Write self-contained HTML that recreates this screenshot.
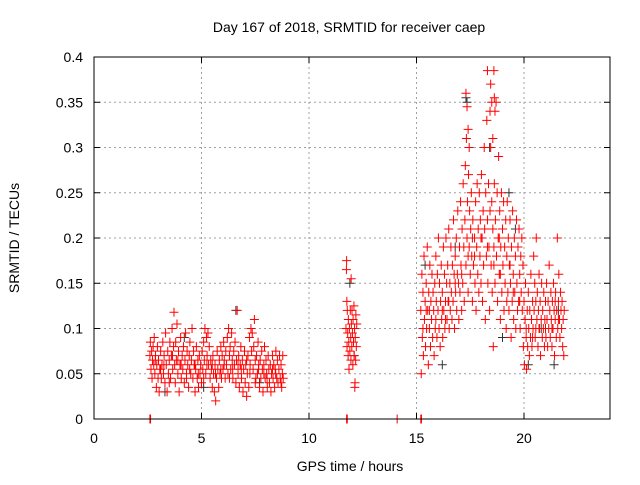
<!DOCTYPE html>
<html><head><meta charset="utf-8"><style>
body{margin:0;background:#fff;font-family:"Liberation Sans",sans-serif}
svg text{font-family:"Liberation Sans",sans-serif;font-size:14px;fill:#000}
</style></head><body>
<svg id="chart" width="640" height="480" xmlns="http://www.w3.org/2000/svg">
<text x="349" y="32" text-anchor="middle">Day 167 of 2018, SRMTID for receiver caep</text>
<text x="350" y="471" text-anchor="middle">GPS time / hours</text>
<text transform="translate(19,238) rotate(-90)" text-anchor="middle">SRMTID / TECUs</text>
<g id="grid"></g>
<g id="ticks"></g>
<g id="black"></g>
<g id="red"></g>
<rect x="94" y="57" width="516" height="362" fill="none" stroke="#000" stroke-width="1"/>
</svg>
<script>
const xTicks=[0,5,10,15,20];
const yTicks=[0,0.05,0.1,0.15,0.2,0.25,0.3,0.35,0.4];
const yTickLabels=["0","0.05","0.1","0.15","0.2","0.25","0.3","0.35","0.4"];
const redCluster1=[
[2.6,0.07],[2.62,0.085],[2.65,0.055],[2.68,0.075],[2.7,0.045],[2.72,0.065],[2.75,0.08],[2.78,0.06],[2.8,0.09],[2.83,0.05],[2.86,0.07],[2.9,0.035],[2.92,0.06],[2.95,0.08],[2.98,0.045],
[3.0,0.065],[3.03,0.03],[3.06,0.055],[3.1,0.075],[3.13,0.045],[3.16,0.06],[3.2,0.085],[3.23,0.05],[3.26,0.07],[3.3,0.04],[3.33,0.095],[3.36,0.06],[3.4,0.03],[3.43,0.075],[3.46,0.05],
[3.5,0.065],[3.53,0.085],[3.56,0.045],[3.6,0.07],[3.63,0.1],[3.66,0.055],[3.7,0.08],[3.72,0.118],[3.75,0.06],[3.78,0.04],[3.8,0.085],[3.83,0.065],[3.86,0.105],[3.9,0.05],[3.93,0.075],
[3.96,0.03],[4.0,0.06],[4.03,0.09],[4.06,0.045],[4.1,0.07],[4.13,0.055],[4.16,0.08],[4.2,0.04],[4.23,0.065],[4.26,0.095],[4.3,0.05],[4.33,0.075],[4.36,0.06],[4.4,0.035],[4.43,0.07],
[4.46,0.085],[4.5,0.05],[4.53,0.065],[4.56,0.1],[4.6,0.045],[4.63,0.075],[4.66,0.06],[4.7,0.03],[4.73,0.055],[4.76,0.08],[4.8,0.045],[4.83,0.065],[4.86,0.035],[4.9,0.07],[4.93,0.05],
[4.96,0.06],[5.0,0.04],[5.03,0.075],[5.06,0.055],[5.1,0.085],[5.13,0.065],[5.16,0.1],[5.2,0.05],[5.23,0.09],[5.26,0.07],[5.3,0.095],[5.33,0.06],[5.36,0.08],[5.4,0.045],[5.43,0.065],
[5.46,0.055],[5.5,0.035],[5.53,0.07],[5.56,0.05],[5.6,0.03],[5.63,0.06],[5.66,0.02],[5.7,0.045],[5.73,0.075],[5.76,0.055],[5.8,0.035],[5.83,0.065],[5.86,0.05],[5.9,0.08],[5.93,0.045],
[5.96,0.07],[6.0,0.055],[6.03,0.085],[6.06,0.065],[6.1,0.045],[6.13,0.075],[6.16,0.06],[6.2,0.09],[6.23,0.05],[6.26,0.1],[6.3,0.07],[6.33,0.08],[6.36,0.055],[6.4,0.095],[6.43,0.065],
[6.46,0.045],[6.5,0.075],[6.53,0.06],[6.56,0.085],[6.6,0.04],[6.63,0.065],[6.66,0.12],[6.7,0.05],[6.73,0.07],[6.76,0.035],[6.8,0.06],[6.83,0.08],[6.86,0.045],[6.9,0.065],[6.93,0.03],
[6.96,0.055],[7.0,0.075],[7.03,0.04],[7.06,0.06],[7.1,0.025],[7.13,0.05],[7.16,0.07],[7.2,0.035],[7.23,0.09],[7.26,0.06],[7.3,0.1],[7.33,0.075],[7.36,0.095],[7.4,0.055],[7.43,0.08],
[7.46,0.11],[7.5,0.065],[7.53,0.045],[7.56,0.07],[7.6,0.05],[7.63,0.085],[7.66,0.06],[7.7,0.035],[7.73,0.065],[7.76,0.045],[7.8,0.075],[7.83,0.055],[7.86,0.03],[7.9,0.06],[7.93,0.08],
[7.96,0.045],[8.0,0.065],[8.03,0.05],[8.06,0.035],[8.1,0.07],[8.13,0.055],[8.16,0.04],[8.2,0.06],[8.23,0.03],[8.26,0.05],[8.3,0.07],[8.33,0.045],[8.36,0.06],[8.4,0.035],[8.43,0.055],
[8.46,0.075],[8.5,0.045],[8.53,0.065],[8.56,0.04],[8.6,0.055],[8.63,0.07],[8.66,0.045],[8.7,0.06],[8.73,0.035],[8.76,0.05],[8.78,0.07],[8.8,0.045],
[3.1,0.055],[3.5,0.04],[3.9,0.065],[4.3,0.045],[4.7,0.06],[5.1,0.045],[5.5,0.06],[5.9,0.055],[6.3,0.045],[6.7,0.06],[7.1,0.065],[7.5,0.04],[7.9,0.05],[8.3,0.055],[8.7,0.04],
[2.85,0.065],[3.25,0.06],[3.65,0.07],[4.05,0.06],[4.45,0.055],[4.85,0.05],[5.25,0.06],[5.65,0.05],[6.05,0.06],[6.45,0.055],[6.85,0.055],[7.25,0.05],[7.65,0.055],[8.05,0.045],[8.45,0.05]];
const redCluster2=[
[11.72,0.1],[11.74,0.165],[11.75,0.175],[11.76,0.13],[11.77,0.08],[11.78,0.12],[11.8,0.095],[11.82,0.07],[11.83,0.11],[11.85,0.085],[11.86,0.055],[11.88,0.1],[11.9,0.075],[11.92,0.12],
[11.94,0.09],[11.95,0.065],[11.97,0.105],[11.99,0.08],[12.0,0.12],[12.02,0.095],[12.04,0.06],[12.05,0.11],[12.07,0.085],[12.09,0.125],[12.1,0.07],[12.12,0.1],[12.14,0.04],[12.15,0.09],
[12.17,0.065],[12.18,0.115],[12.2,0.08],[12.22,0.105],[12.13,0.035],[11.96,0.155]];
const redCluster3=[
[15.2,0.12],[15.22,0.05],[15.25,0.16],[15.27,0.09],[15.3,0.14],[15.32,0.07],[15.35,0.18],[15.37,0.11],[15.4,0.13],[15.42,0.08],[15.45,0.15],[15.47,0.1],[15.5,0.19],[15.52,0.12],[15.55,0.06],
[15.57,0.14],[15.6,0.1],[15.62,0.17],[15.65,0.08],[15.67,0.13],[15.7,0.11],[15.72,0.16],[15.75,0.09],[15.77,0.14],[15.8,0.12],[15.82,0.07],[15.85,0.15],[15.87,0.1],[15.9,0.18],[15.92,0.13],
[15.95,0.09],[15.97,0.16],[16.0,0.12],[16.02,0.2],[16.05,0.1],[16.07,0.15],[16.1,0.08],[16.12,0.13],[16.15,0.17],[16.17,0.11],[16.2,0.14],[16.22,0.09],[16.25,0.19],[16.27,0.12],[16.3,0.16],
[16.32,0.1],[16.35,0.13],[16.37,0.2],[16.4,0.15],[16.42,0.11],[16.45,0.17],[16.47,0.13],[16.5,0.21],[16.52,0.1],[16.55,0.15],[16.57,0.12],[16.6,0.19],[16.62,0.14],[16.65,0.11],[16.67,0.17],
[16.7,0.13],[16.72,0.22],[16.75,0.16],[16.77,0.1],[16.8,0.18],[16.82,0.14],[16.85,0.2],[16.87,0.12],[16.9,0.16],[16.92,0.23],[16.95,0.15],[16.97,0.11],[17.0,0.19],[17.02,0.14],[17.05,0.24],
[17.07,0.17],[17.1,0.12],[17.12,0.21],[17.15,0.15],[17.17,0.26],[17.2,0.19],[17.22,0.13],[17.25,0.22],[17.27,0.28],[17.3,0.17],[17.32,0.31],[17.35,0.2],[17.37,0.24],[17.4,0.14],[17.42,0.27],
[17.45,0.19],[17.47,0.23],[17.5,0.16],[17.52,0.21],[17.55,0.25],[17.57,0.18],[17.6,0.13],[17.62,0.22],[17.65,0.17],[17.7,0.2],[17.72,0.15],[17.75,0.24],[17.77,0.12],[17.8,0.19],[17.82,0.26],
[17.85,0.16],[17.87,0.21],[17.9,0.14],[17.92,0.25],[17.95,0.18],[17.97,0.22],[18.0,0.15],[18.02,0.27],[18.05,0.2],[18.07,0.13],[18.1,0.23],[18.12,0.17],[18.15,0.3],[18.17,0.21],[18.2,0.11],
[18.22,0.25],[18.25,0.18],[18.27,0.33],[18.3,0.22],[18.32,0.15],[18.35,0.26],[18.37,0.19],[18.4,0.12],[18.42,0.23],[18.45,0.3],[18.47,0.17],[18.5,0.24],[18.52,0.14],[18.55,0.21],[18.57,0.08],
[18.6,0.19],[18.62,0.26],[18.65,0.15],[18.67,0.22],[18.7,0.35],[18.72,0.18],[18.75,0.25],[18.77,0.13],[18.8,0.2],[18.82,0.29],[18.85,0.16],[18.87,0.23],[18.9,0.11],[18.92,0.19],[18.95,0.25],
[18.97,0.14],[19.0,0.21],[19.02,0.17],[19.05,0.24],[19.07,0.12],[19.1,0.19],[19.12,0.15],[19.15,0.22],[19.17,0.1],[19.2,0.18],[19.22,0.24],[19.25,0.14],[19.27,0.2],[19.3,0.12],[19.32,0.17],
[19.35,0.22],[19.37,0.15],[19.4,0.09],[19.42,0.19],[19.45,0.13],[19.47,0.23],[19.5,0.16],[19.52,0.11],[19.55,0.2],[19.57,0.14],[19.6,0.18],[19.62,0.1],[19.65,0.22],[19.67,0.15],[19.7,0.12],
[19.72,0.19],[19.75,0.13],[19.77,0.21],[19.8,0.16],[19.82,0.1],[19.85,0.18],[19.87,0.14],[19.9,0.2],[19.92,0.12],[19.95,0.17],[19.97,0.08],[20.0,0.13],[20.02,0.06],[20.05,0.11],[20.07,0.15],
[20.1,0.09],[20.12,0.055],[20.15,0.12],[20.17,0.08],[20.2,0.14],[20.22,0.1],[20.25,0.07],[20.27,0.12],[20.3,0.09],[20.32,0.16],[20.35,0.11],[20.37,0.08],[20.4,0.13],[20.42,0.1],[20.45,0.18],
[20.47,0.12],[20.5,0.15],[20.52,0.09],[20.55,0.13],[20.57,0.2],[20.6,0.11],[20.62,0.14],[20.65,0.08],[20.67,0.12],[20.7,0.16],[20.72,0.1],[20.75,0.13],[20.77,0.07],[20.8,0.11],[20.82,0.15],
[20.85,0.09],[20.87,0.12],[20.9,0.1],[20.92,0.14],[20.95,0.08],[20.97,0.11],[21.0,0.13],[21.02,0.09],[21.05,0.15],[21.07,0.11],[21.1,0.08],[21.12,0.13],[21.15,0.1],[21.17,0.17],[21.2,0.12],
[21.22,0.09],[21.25,0.14],[21.27,0.11],[21.3,0.08],[21.32,0.13],[21.35,0.1],[21.37,0.15],[21.4,0.12],[21.42,0.07],[21.45,0.11],[21.47,0.14],[21.5,0.09],[21.52,0.12],[21.55,0.2],[21.57,0.1],
[21.6,0.13],[21.62,0.16],[21.65,0.11],[21.67,0.09],[21.7,0.14],[21.72,0.12],[21.75,0.1],[21.77,0.13],[21.8,0.08],[21.82,0.11],[21.85,0.07],[21.87,0.12],
[17.3,0.36],[17.35,0.345],[17.4,0.32],[18.3,0.385],[18.45,0.37],[18.5,0.35],[18.6,0.385],[18.62,0.355],[18.65,0.34],[18.42,0.34],[18.55,0.31],[17.45,0.3],
[15.3,0.1],[15.6,0.12],[15.9,0.11],[16.2,0.12],[16.5,0.13],[16.8,0.15],[17.1,0.16],[17.4,0.18],[17.7,0.18],[18.0,0.2],[18.3,0.19],[18.6,0.17],[18.9,0.16],[19.2,0.13],[19.5,0.14],
[19.8,0.13],[20.1,0.1],[20.4,0.09],[20.7,0.1],[21.0,0.1],[21.3,0.1],[21.6,0.11],[15.45,0.12],[16.35,0.11],[17.6,0.2],[18.85,0.2],[19.35,0.17],[20.55,0.1],[21.45,0.13]];
const redBaseline=[[2.6,0],[2.63,0],[11.75,0],[11.78,0],[15.2,0],[15.23,0],[14.1,0]];
const blackPoints=[[3.3,0.03],[4.2,0.09],[5.1,0.035],[6.6,0.12],[7.7,0.04],[11.9,0.15],[12.1,0.07],[15.4,0.17],[16.2,0.06],[17.3,0.355],[17.35,0.35],[18.4,0.3],[19.0,0.09],[19.6,0.21],[20.2,0.06],[20.8,0.1],[21.4,0.06],[21.6,0.12],[16.8,0.19],[19.3,0.25]];
const X=t=>94+t*516/24, Y=v=>419-v*362/0.4;
const NS="http://www.w3.org/2000/svg";
const grid=document.getElementById('grid'),ticks=document.getElementById('ticks');
function line(p,x1,y1,x2,y2,st,dash){const l=document.createElementNS(NS,'line');l.setAttribute('x1',x1);l.setAttribute('y1',y1);l.setAttribute('x2',x2);l.setAttribute('y2',y2);l.setAttribute('stroke',st);if(dash)l.setAttribute('stroke-dasharray',dash);p.appendChild(l);return l;}
xTicks.forEach(t=>{const x=X(t);
if(t>0){const g=line(grid,x,57,x,419,'#a0a0a0','2,3');

}
line(ticks,x,419,x,413,'#000');line(ticks,x,57,x,63,'#000');
const tx=document.createElementNS(NS,'text');tx.setAttribute('x',x);tx.setAttribute('y',443);tx.setAttribute('text-anchor','middle');tx.textContent=t;


ticks.appendChild(tx);});
yTicks.forEach((v,i)=>{const y=Y(v);
if(v>0&&v<0.4){const g=line(grid,94,y,610,y,'#a0a0a0','2,3');

}
line(ticks,94,y,100,y,'#000');line(ticks,610,y,604,y,'#000');
const tx=document.createElementNS(NS,'text');tx.setAttribute('x',83);tx.setAttribute('y',y+5);tx.setAttribute('text-anchor','end');tx.textContent=yTickLabels[i];


ticks.appendChild(tx);});
function plot(id,pts,col){const g=document.getElementById(id);let d='';
pts.forEach(p=>{const x=X(p[0]),y=Y(p[1]);d+=`M${x-4.5} ${y}h9M${x} ${y-4.5}v9`;});
const p=document.createElementNS(NS,'path');p.setAttribute('d',d);p.setAttribute('stroke',col);p.setAttribute('stroke-width','1');p.setAttribute('fill','none');


g.appendChild(p);}
plot('black',blackPoints,'#333');
plot('red',redCluster1.concat(redCluster2,redCluster3,redBaseline),'#f00');
</script>
</body></html>
